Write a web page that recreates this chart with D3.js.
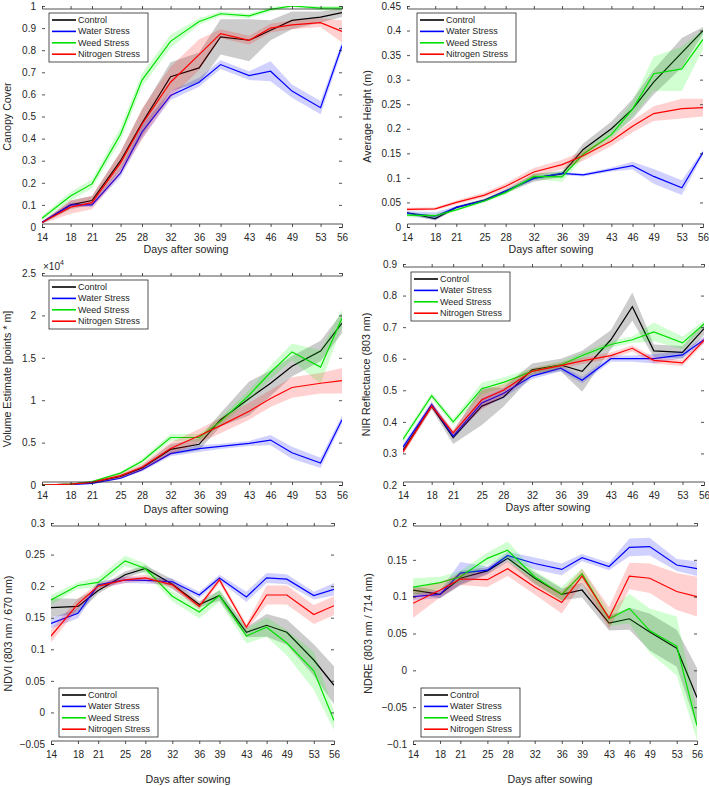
<!DOCTYPE html>
<html><head><meta charset="utf-8">
<script src="https://cdn.jsdelivr.net/npm/d3@7"></script>
<style>body{margin:0;background:#fff}svg{display:block}text{font-family:"Liberation Sans",Arial,Helvetica,sans-serif;fill:#262626}</style>
</head><body><svg id="c" width="709" height="786"></svg>
<script>
// ---------- DATA ----------
const days = [14,18,21,25,28,32,36,39,43,46,49,53,56];
const seriesNames = ["Control","Water Stress","Weed Stress","Nitrogen Stress"];

// Canopy Cover
const canopyControl  = [0.02,0.10,0.12,0.30,0.47,0.68,0.72,0.86,0.845,0.89,0.935,0.95,0.97];
const canopyWater    = [0.02,0.10,0.10,0.245,0.43,0.595,0.655,0.735,0.685,0.705,0.615,0.54,0.82];
const canopyWeed     = [0.04,0.14,0.195,0.42,0.665,0.84,0.93,0.965,0.955,0.985,1.0,0.99,0.99];
const canopyNitrogen = [0.02,0.09,0.11,0.29,0.465,0.655,0.78,0.875,0.845,0.90,0.915,0.925,0.885];
const canopyControlErr  = [0.005,0.02,0.02,0.04,0.06,0.065,0.07,0.08,0.095,0.045,0.04,0.025,0.02];
const canopyWaterErr    = [0.005,0.01,0.01,0.02,0.03,0.02,0.02,0.02,0.02,0.045,0.03,0.03,0.02];
const canopyWeedErr     = [0.01,0.02,0.02,0.03,0.03,0.03,0.015,0.01,0.01,0.01,0.005,0.01,0.01];
const canopyNitrogenErr = [0.005,0.03,0.03,0.05,0.07,0.07,0.07,0.02,0.02,0.02,0.02,0.02,0.05];

// Average Height (m)
const heightControl  = [0.029,0.017,0.040,0.055,0.073,0.100,0.108,0.158,0.200,0.240,0.295,0.355,0.400];
const heightWater    = [0.028,0.022,0.040,0.054,0.073,0.099,0.109,0.106,0.117,0.125,0.103,0.080,0.152];
const heightWeed     = [0.024,0.023,0.035,0.053,0.070,0.103,0.102,0.148,0.188,0.240,0.312,0.322,0.382];
const heightNitrogen = [0.036,0.037,0.050,0.065,0.083,0.112,0.127,0.145,0.175,0.205,0.231,0.241,0.243];
const heightControlErr  = [0.003,0.004,0.003,0.003,0.004,0.008,0.006,0.012,0.015,0.02,0.025,0.03,0.007];
const heightWaterErr    = [0.004,0.008,0.003,0.003,0.003,0.004,0.003,0.003,0.004,0.008,0.015,0.015,0.005];
const heightWeedErr     = [0.004,0.004,0.003,0.003,0.004,0.006,0.01,0.008,0.01,0.015,0.035,0.045,0.02];
const heightNitrogenErr = [0.003,0.003,0.004,0.005,0.006,0.008,0.01,0.01,0.01,0.012,0.015,0.02,0.018];

// Volume Estimate (x10^4)
const volumeControl  = [0,0.01,0.03,0.10,0.20,0.42,0.48,0.77,1.02,1.20,1.40,1.58,1.91];
const volumeWater    = [0,0.005,0.02,0.08,0.18,0.37,0.43,0.455,0.49,0.53,0.38,0.26,0.77];
const volumeWeed     = [0,0.01,0.04,0.14,0.28,0.56,0.56,0.75,1.06,1.33,1.57,1.39,1.97];
const volumeNitrogen = [0,0.01,0.03,0.11,0.21,0.43,0.58,0.70,0.87,1.02,1.15,1.20,1.23];
const volumeControlErr  = [0,0.005,0.01,0.02,0.03,0.06,0.07,0.08,0.2,0.15,0.12,0.12,0.12];
const volumeWaterErr    = [0,0.005,0.01,0.01,0.02,0.03,0.04,0.03,0.03,0.06,0.07,0.06,0.05];
const volumeWeedErr     = [0,0.005,0.01,0.02,0.03,0.04,0.04,0.05,0.06,0.08,0.1,0.2,0.1];
const volumeNitrogenErr = [0,0.005,0.01,0.03,0.04,0.07,0.08,0.09,0.1,0.1,0.12,0.12,0.15];

// NIR Reflectance (803 nm)
const nirControl  = [0.31,0.45,0.35,0.45,0.478,0.565,0.58,0.56,0.66,0.765,0.625,0.62,0.695];
const nirWater    = [0.32,0.455,0.355,0.46,0.49,0.545,0.57,0.532,0.60,0.60,0.60,0.612,0.66];
const nirWeed     = [0.345,0.483,0.40,0.505,0.525,0.56,0.58,0.61,0.645,0.66,0.685,0.65,0.71];
const nirNitrogen = [0.305,0.45,0.365,0.47,0.50,0.56,0.578,0.593,0.61,0.633,0.595,0.587,0.658];
const nirControlErr  = [0.01,0.01,0.02,0.06,0.03,0.02,0.02,0.065,0.03,0.045,0.02,0.02,0.02];
const nirWaterErr    = [0.01,0.01,0.01,0.015,0.015,0.01,0.01,0.01,0.01,0.01,0.015,0.01,0.01];
const nirWeedErr     = [0.01,0.01,0.01,0.02,0.015,0.01,0.01,0.01,0.01,0.01,0.03,0.02,0.01];
const nirNitrogenErr = [0.01,0.01,0.01,0.03,0.02,0.01,0.01,0.01,0.01,0.01,0.01,0.01,0.01];

// NDVI
const ndviControl  = [0.166,0.168,0.193,0.218,0.228,0.203,0.171,0.185,0.127,0.138,0.127,0.083,0.043];
const ndviWater    = [0.141,0.157,0.202,0.210,0.209,0.207,0.186,0.213,0.183,0.213,0.211,0.185,0.195];
const ndviWeed     = [0.178,0.201,0.206,0.240,0.228,0.184,0.159,0.185,0.121,0.135,0.110,0.066,-0.013];
const ndviNitrogen = [0.121,0.172,0.200,0.210,0.213,0.202,0.168,0.210,0.135,0.186,0.186,0.155,0.169];
const ndviControlErr  = [0.015,0.012,0.005,0.005,0.005,0.008,0.005,0.008,0.008,0.018,0.02,0.025,0.03];
const ndviWaterErr    = [0.008,0.008,0.005,0.005,0.005,0.005,0.005,0.005,0.008,0.008,0.008,0.006,0.01];
const ndviWeedErr     = [0.008,0.005,0.008,0.008,0.008,0.008,0.01,0.01,0.012,0.015,0.02,0.03,0.015];
const ndviNitrogenErr = [0.01,0.008,0.005,0.005,0.005,0.005,0.005,0.005,0.005,0.015,0.015,0.015,0.015];

// NDRE
const ndreControl  = [0.109,0.103,0.125,0.135,0.152,0.125,0.103,0.109,0.064,0.070,0.052,0.030,-0.037];
const ndreWater    = [0.100,0.103,0.132,0.136,0.156,0.145,0.137,0.153,0.141,0.167,0.168,0.143,0.138];
const ndreWeed     = [0.113,0.119,0.127,0.152,0.163,0.127,0.103,0.131,0.070,0.084,0.054,0.033,-0.075];
const ndreNitrogen = [0.091,0.109,0.124,0.123,0.138,0.113,0.092,0.128,0.071,0.128,0.125,0.107,0.100];
const ndreControlErr  = [0.005,0.005,0.01,0.005,0.005,0.008,0.008,0.01,0.01,0.015,0.025,0.025,0.04];
const ndreWaterErr    = [0.005,0.005,0.015,0.005,0.005,0.008,0.008,0.005,0.005,0.012,0.012,0.008,0.01];
const ndreWeedErr     = [0.012,0.008,0.008,0.008,0.012,0.008,0.01,0.008,0.01,0.02,0.03,0.04,0.02];
const ndreNitrogenErr = [0.02,0.01,0.008,0.01,0.01,0.01,0.015,0.01,0.015,0.018,0.02,0.025,0.027];

const canopyTicks = [0,0.1,0.2,0.3,0.4,0.5,0.6,0.7,0.8,0.9,1];
const heightTicks = [0,0.05,0.1,0.15,0.2,0.25,0.3,0.35,0.4,0.45];
const volumeTicks = [0,0.5,1,1.5,2,2.5];
const nirTicks = [0.2,0.3,0.4,0.5,0.6,0.7,0.8,0.9];
const ndviTicks = [-0.05,0,0.05,0.1,0.15,0.2,0.25,0.3];
const ndreTicks = [-0.1,-0.05,0,0.05,0.1,0.15,0.2];

// ---------- STYLE / LAYOUT ----------
const colors = ["#000000","#0000ff","#00e000","#ff0000"];
const bandColors = ["#000000","#0000ff","#00ff00","#ff0000"];
const svg = d3.select("#c");

const panels = [
  {ylabel:"Canopy Cover", series:[canopyControl,canopyWater,canopyWeed,canopyNitrogen], errs:[canopyControlErr,canopyWaterErr,canopyWeedErr,canopyNitrogenErr], ticks:canopyTicks,
   box:{l:42,r:342,t:6,b:227}, ylx:7, xlab:[186,249], leg:[49,13]},
  {ylabel:"Average Height (m)", series:[heightControl,heightWater,heightWeed,heightNitrogen], errs:[heightControlErr,heightWaterErr,heightWeedErr,heightNitrogenErr], ticks:heightTicks,
   box:{l:407,r:703,t:6,b:227}, ylx:367, xlab:[551,249], leg:[417,13]},
  {ylabel:"Volume Estimate [points * m]", series:[volumeControl,volumeWater,volumeWeed,volumeNitrogen], errs:[volumeControlErr,volumeWaterErr,volumeWeedErr,volumeNitrogenErr], ticks:volumeTicks,
   box:{l:42,r:342,t:273,b:485}, ylx:7, xlab:[186,509], leg:[49,280], exp:true},
  {ylabel:"NIR Reflectance (803 nm)", series:[nirControl,nirWater,nirWeed,nirNitrogen], errs:[nirControlErr,nirWaterErr,nirWeedErr,nirNitrogenErr], ticks:nirTicks,
   box:{l:403,r:704,t:264,b:485}, ylx:366, xlab:[548,507], leg:[411,272]},
  {ylabel:"NDVI (803 nm / 670 nm)", series:[ndviControl,ndviWater,ndviWeed,ndviNitrogen], errs:[ndviControlErr,ndviWaterErr,ndviWeedErr,ndviNitrogenErr], ticks:ndviTicks,
   box:{l:51,r:334,t:523,b:744}, ylx:8, xlab:[188,779], leg:[59,688]},
  {ylabel:"NDRE (803 nm / 714 nm)", series:[ndreControl,ndreWater,ndreWeed,ndreNitrogen], errs:[ndreControlErr,ndreWaterErr,ndreWeedErr,ndreNitrogenErr], ticks:ndreTicks,
   box:{l:413,r:697,t:523,b:744}, ylx:368, xlab:[550,779], leg:[421,688]}
];

const axisCol = "#262626";
panels.forEach(p => {
  const B = p.box;
  const x = d3.scaleLinear().domain([14,56]).range([B.l,B.r]);
  const y = d3.scaleLinear().domain(d3.extent(p.ticks)).range([B.b,B.t]);
  const g = svg.append("g");
  const clipId = "clip" + B.l + "_" + B.t;
  g.append("clipPath").attr("id",clipId).append("rect").attr("x",B.l).attr("y",B.t).attr("width",B.r-B.l).attr("height",B.b-B.t);
  const plot = g.append("g").attr("clip-path",`url(#${clipId})`);

  p.series.forEach((vals,i) => {
    const rows = days.map((d,k)=>({d, v:vals[k], e:p.errs[i][k]}));
    const area = d3.area().x(r=>x(r.d)).y0(r=>y(r.v-r.e)).y1(r=>y(r.v+r.e));
    plot.append("path").attr("d",area(rows)).attr("fill",bandColors[i])
      .attr("fill-opacity", i===0 ? 0.2 : 0.18).attr("stroke","none");
    const line = d3.line().x(r=>x(r.d)).y(r=>y(r.v));
    plot.append("path").attr("d",line(rows)).attr("fill","none").attr("stroke",colors[i]).attr("stroke-width",1.2);
  });

  // axes using d3 axis generators (ticks inward, mirrored)
  const tl = 3;
  const xa = d3.axisBottom(x).tickValues(days).tickSize(-tl).tickPadding(tl+4).tickFormat(d3.format("d"));
  const xt = d3.axisTop(x).tickValues(days).tickSize(-tl).tickFormat("");
  const fmt = v => (Math.abs(v)<1e-9 ? "0" : d3.format("")(+v.toFixed(2)));
  const ya = d3.axisLeft(y).tickValues(p.ticks).tickSize(-tl).tickPadding(tl+3).tickFormat(fmt);
  const yr = d3.axisRight(y).tickValues(p.ticks).tickSize(-tl).tickFormat("");
  [[xa,`translate(0,${B.b})`],[xt,`translate(0,${B.t})`],[ya,`translate(${B.l},0)`],[yr,`translate(${B.r},0)`]].forEach(([ax,tr])=>{
    const a = g.append("g").attr("transform",tr).call(ax);
    a.selectAll("path,line").attr("stroke",axisCol).attr("stroke-width",0.8);
    a.select(".domain").attr("stroke-width",0.8);
    a.selectAll("text").style("font-size","10px").style("font-family",'"Liberation Sans",Arial,sans-serif').attr("fill",axisCol);
  });
  g.selectAll(".domain").each(function(){ d3.select(this).attr("d", d3.select(this).attr("d").replace(/V-?[\d.]+H/,"H").replace(/V[\d.]+$/,"")); });

  // labels
  g.append("text").attr("transform",`translate(${p.ylx},${(B.t+B.b)/2}) rotate(-90)`)
    .attr("text-anchor","middle").attr("dominant-baseline","central").style("font-size","10.7px").text(p.ylabel);
  g.append("text").attr("x",p.xlab[0]).attr("y",p.xlab[1]).attr("text-anchor","middle").attr("dominant-baseline","central")
    .style("font-size","10.7px").text("Days after sowing");
  if (p.exp) {
    const t = g.append("text").attr("x",B.l+1).attr("y",B.t-3).style("font-size","10px");
    t.append("tspan").text("\u00d710");
    t.append("tspan").attr("dy",-5).style("font-size","7px").text("4");
  }

  // legend
  const [lx,ly] = p.leg;
  const lg = g.append("g");
  lg.append("rect").attr("x",lx).attr("y",ly).attr("width",99).attr("height",49).attr("fill","#fff").attr("stroke",axisCol).attr("stroke-width",0.8);
  seriesNames.forEach((n,i)=>{
    const yy = ly + 7 + i*11.4;
    lg.append("line").attr("x1",lx+3).attr("x2",lx+27).attr("y1",yy).attr("y2",yy).attr("stroke",colors[i]).attr("stroke-width",1.6);
    lg.append("text").attr("x",lx+29).attr("y",yy).attr("dominant-baseline","central").style("font-size","9px").text(n);
  });
});
</script></body></html>
